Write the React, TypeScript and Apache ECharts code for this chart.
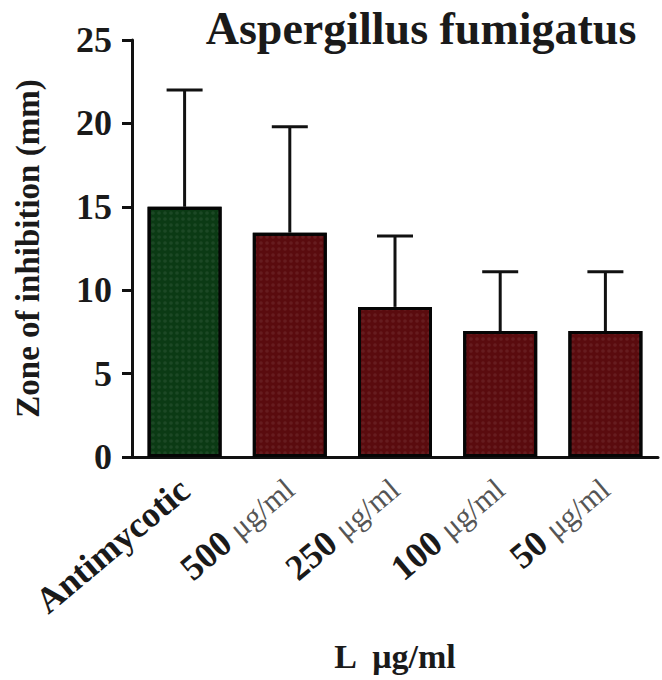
import React, { useEffect, useRef } from "react";
import * as echarts from "echarts";

const categories = ["Antimycotic", "500", "250", "100", "50"];
const unitLabel = "μg/ml";
const means = [15.0, 13.45, 9.0, 7.55, 7.55];
const upperErr = [22.0, 19.8, 13.25, 11.1, 11.1];
const yTicks = [0, 5, 10, 15, 20, 25];
const barColors = ["#0b3a14", "#5a0b0e", "#5a0b0e", "#5a0b0e", "#5a0b0e"];

const FONT = "'Liberation Serif', 'Times New Roman', serif";

export default function App() {
  const ref = useRef<HTMLDivElement>(null);
  useEffect(() => {
    if (!ref.current) return;
    const chart = echarts.init(ref.current, null, { renderer: "svg" });
    const errData = categories.map((_, i) => [i, means[i], upperErr[i]]);
    chart.setOption({
      animation: false,
      backgroundColor: "#ffffff",
      title: {
        text: "Aspergillus fumigatus",
        left: 416,
        top: 0,
        textAlign: "center",
        textStyle: { fontFamily: FONT, fontWeight: "bold", fontSize: 46, color: "#1a1a1a" },
      },
      grid: { left: 132, right: 4, top: 40, bottom: 223, containLabel: false, outerBoundsMode: "none" },
      xAxis: {
        type: "category",
        data: categories,
        name: "L  μg/ml",
        nameLocation: "middle",
        nameGap: 182,
        nameTextStyle: { fontFamily: FONT, fontWeight: "bold", fontSize: 34, color: "#1a1a1a" },
        axisLine: { lineStyle: { color: "#111", width: 3 } },
        axisTick: { alignWithLabel: true, length: 8, lineStyle: { color: "#111", width: 3 } },
        axisLabel: {
          rotate: 40,
          margin: 28,
          interval: 0,
          fontFamily: FONT,
          fontWeight: "bold",
          fontSize: 36,
          color: "#1a1a1a",
          formatter: (v: string) => (v === "Antimycotic" ? "{b|" + v + "}" : "{b|" + v + "} {n|" + unitLabel + "}"),
          rich: {
            b: { fontFamily: FONT, fontWeight: "bold", fontSize: 36, color: "#1a1a1a" },
            n: { fontFamily: FONT, fontWeight: "normal", fontSize: 31, color: "#555" },
          },
        },
      },
      yAxis: {
        type: "value",
        min: 0,
        max: 25,
        interval: 5,
        name: "Zone of inhibition (mm)",
        nameLocation: "middle",
        nameRotate: 90,
        nameGap: 88,
        nameTextStyle: { fontFamily: FONT, fontWeight: "bold", fontSize: 33, color: "#1a1a1a" },
        splitLine: { show: false },
        axisLine: { show: true, lineStyle: { color: "#111", width: 3 } },
        axisTick: { show: true, length: 10, lineStyle: { color: "#111", width: 3 } },
        axisLabel: {
          margin: 20,
          fontFamily: FONT,
          fontWeight: "bold",
          fontSize: 36,
          color: "#1a1a1a",
          formatter: (v: number) => (yTicks.includes(v) ? String(v) : ""),
        },
      },
      series: [
        {
          type: "bar",
          barWidth: 74,
          data: means.map((v, i) => ({
            value: v,
            itemStyle: {
              color: barColors[i],
              borderColor: "#050505",
              borderWidth: 3,
              decal: {
                symbol: "circle",
                symbolSize: 0.6,
                dashArrayX: [6, 0],
                dashArrayY: [6, 0],
                color: "rgba(255,255,255,0.07)",
              },
            },
          })),
          z: 2,
        },
        {
          type: "custom",
          z: 3,
          data: errData,
          renderItem: (params: any, api: any) => {
            const i = api.value(0);
            const base = api.coord([i, api.value(1)]);
            const top = api.coord([i, api.value(2)]);
            const half = 18;
            const style = { stroke: "#111", lineWidth: 3 };
            return {
              type: "group",
              children: [
                { type: "line", shape: { x1: base[0], y1: base[1], x2: top[0], y2: top[1] }, style },
                { type: "line", shape: { x1: top[0] - half, y1: top[1], x2: top[0] + half, y2: top[1] }, style },
              ],
            };
          },
        },
      ],
    });
    return () => chart.dispose();
  }, []);
  return <div ref={ref} style={{ width: 662, height: 680, position: "absolute", left: 0, top: 0 }} />;
}
